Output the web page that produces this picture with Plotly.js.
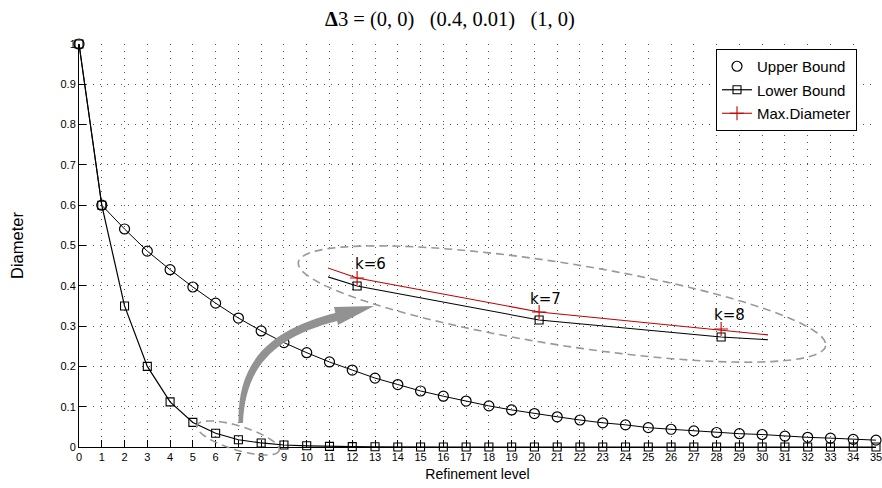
<!DOCTYPE html>
<html>
<head>
<meta charset="utf-8">
<script src="https://cdn.plot.ly/plotly-3.0.1.min.js"></script>
<style>html,body{margin:0;padding:0;background:#fff;}#chart{width:882px;height:488px;}</style>
</head>
<body>
<div id="chart"></div>
<script>
// ---- data ----
const refinementLevels = [0,1,2,3,4,5,6,7,8,9,10,11,12,13,14,15,16,17,18,19,20,21,22,23,24,25,26,27,28,29,30,31,32,33,34,35];
const upperBound = [1, 0.6, 0.541, 0.486, 0.44, 0.397, 0.357, 0.32, 0.288, 0.259, 0.234, 0.211, 0.191, 0.171, 0.155, 0.139, 0.126, 0.114, 0.102, 0.092, 0.083, 0.075, 0.067, 0.06, 0.055, 0.048, 0.044, 0.04, 0.036, 0.033, 0.031, 0.027, 0.024, 0.022, 0.019, 0.017];
const lowerBound = [1, 0.6, 0.35, 0.2, 0.112, 0.061, 0.034, 0.018, 0.010, 0.005, 0.003, 0.0015, 0.001, 0.0005, 0, 0, 0, 0, 0, 0, 0, 0, 0, 0, 0, 0, 0, 0, 0, 0, 0, 0, 0, 0, 0, 0];
const maxDiamLevels = [5, 6, 7, 8, 9];
const maxDiameter = [0.067, 0.0378, 0.0218, 0.0138, 0.0046];
const zoomLabels = ['k=6', 'k=7', 'k=8'];

// ---- geometry helpers (pixel -> paper) ----
const L = 79, R = 876, T = 44, B = 447;
const px = x => (x - L) / (R - L);
const py = y => (B - y) / (B - T);
function ellipsePath(cx, cy, a, b, deg) {
  const t = deg * Math.PI / 180, n = 90; let p = '';
  for (let i = 0; i <= n; i++) {
    const u = 2 * Math.PI * i / n;
    const x = cx + a * Math.cos(u) * Math.cos(t) - b * Math.sin(u) * Math.sin(t);
    const y = cy + a * Math.cos(u) * Math.sin(t) + b * Math.sin(u) * Math.cos(t);
    p += (i ? ' L ' : 'M ') + px(x).toFixed(5) + ',' + py(y).toFixed(5);
  }
  return p + ' Z';
}
function pathPx(cmds) {
  return cmds.map(c => c[0] + ' ' + c.slice(1).map((v, i) => (i % 2 ? py(v) : px(v)).toFixed(5)).reduce((s, v, i) => s + (i % 2 ? ',' : (i ? ' ' : '')) + v, '')).join(' ');
}

const font = 'Liberation Sans, Arial, sans-serif';
const traces = [
  {x: refinementLevels, y: upperBound, mode: 'lines', line: {color: '#000', width: 1}, showlegend: false, hoverinfo: 'skip', cliponaxis: false},
  {x: refinementLevels, y: upperBound, mode: 'markers', name: 'Upper Bound', legendgroup: 'a',
   marker: {symbol: 'circle-open', size: 10, color: '#000', line: {width: 1.2, color: '#000'}}, cliponaxis: false},
  {x: refinementLevels, y: lowerBound, mode: 'lines+markers', name: 'Lower Bound', legendgroup: 'b',
   line: {color: '#000', width: 1.2}, marker: {symbol: 'square-open', size: 8, color: '#000', line: {width: 1.1, color: '#000'}}, cliponaxis: false},
  {x: refinementLevels, y: lowerBound, xaxis: 'x2', yaxis: 'y2', mode: 'lines+markers', showlegend: false,
   line: {color: '#000', width: 1.1}, marker: {symbol: 'square-open', size: 8, color: '#000', line: {width: 1.1, color: '#000'}}},
  {x: maxDiamLevels, y: maxDiameter, xaxis: 'x2', yaxis: 'y2', mode: 'lines+markers', name: 'Max.Diameter', legendgroup: 'c',
   line: {color: '#c00000', width: 1.1}, marker: {symbol: 'cross-thin-open', size: 10, color: '#c00000', line: {width: 1.1, color: '#c00000'}}}
];

const shapes = [
  {type: 'path', xref: 'paper', yref: 'paper', path: ellipsePath(562, 304, 267, 41, 9), line: {color: '#999', width: 1.6, dash: '8px,5px'}},
  {type: 'path', xref: 'paper', yref: 'paper', path: ellipsePath(238, 438, 43, 12, 17), line: {color: '#999', width: 1.6, dash: '8px,5px'}},
  {type: 'path', xref: 'paper', yref: 'paper', fillcolor: '#929292', line: {width: 0},
   path: pathPx([['M', 238.5, 423], ['C', 237.5, 368, 262, 331, 337, 312.5], ['L', 339, 320.5], ['C', 268, 338, 245, 372, 243, 423]]) + ' Z'},
  {type: 'path', xref: 'paper', yref: 'paper', fillcolor: '#929292', line: {width: 0},
   path: pathPx([['M', 334, 307], ['L', 374, 306], ['L', 338, 325]]) + ' Z'}
];

const labelPos = [[370, 264], [545, 299], [729, 315]];
const annotations = zoomLabels.map((t, i) => ({
  text: t, xref: 'paper', yref: 'paper', x: px(labelPos[i][0]), y: py(labelPos[i][1]),
  showarrow: false, xanchor: 'center', yanchor: 'middle', font: {family: 'DejaVu Sans, sans-serif', size: 15, color: '#000'}
}));

const gridDash = '1px,6px';
const layout = {
  width: 882, height: 488,
  margin: {l: L, r: 882 - R, t: T, b: 488 - B},
  paper_bgcolor: '#fff', plot_bgcolor: 'rgba(0,0,0,0)',
  font: {family: font, size: 11, color: '#000'},
  title: {text: '<b>Δ</b>3 = (0, 0)\u00a0\u00a0 (0.4, 0.01)\u00a0\u00a0 (1, 0)', font: {family: 'Liberation Serif, serif', size: 20.5, color: '#000'},
          x: 450 / 882, xref: 'container', xanchor: 'center', y: 1 - 19 / 488, yref: 'container', yanchor: 'middle'},
  xaxis: {range: [0, 35], tickmode: 'array', tickvals: refinementLevels, ticktext: refinementLevels.map(String), ticklabeloverflow: 'allow',
          ticks: 'inside', ticklen: 7, tickcolor: '#000',
          showline: true, linecolor: '#000', linewidth: 1, zeroline: false, showgrid: true, gridcolor: '#555', griddash: gridDash, gridwidth: 1,
          tickfont: {size: 11}, title: {text: 'Refinement level', font: {size: 14}, standoff: 6}},
  yaxis: {range: [0, 1], tickmode: 'linear', tick0: 0, dtick: 0.1, ticks: 'inside', ticklen: 7, tickcolor: '#000',
          showline: true, linecolor: '#000', linewidth: 1, zeroline: false, showgrid: true, gridcolor: '#555', griddash: gridDash, gridwidth: 1,
          tickfont: {size: 11}, title: {text: 'Diameter', font: {size: 16.5}, standoff: 32}},
  xaxis2: {domain: [px(328), px(768)], range: [5.84, 5.84 + 440 / 182], anchor: 'y2', visible: false, showgrid: false, zeroline: false},
  yaxis2: {domain: [py(350), py(250)], range: [0.034 - 64 / 2125, 0.034 + 36 / 2125], anchor: 'x2', visible: false, showgrid: false, zeroline: false},
  showlegend: true,
  legend: {x: px(857), xanchor: 'right', y: py(49), yanchor: 'top', bgcolor: '#fff', bordercolor: '#000', borderwidth: 1,
           font: {size: 15, family: font}, traceorder: 'grouped', tracegroupgap: 1},
  shapes: shapes, annotations: annotations
};
Plotly.newPlot('chart', traces, layout, {displayModeBar: false, staticPlot: true});
</script>
</body>
</html>
